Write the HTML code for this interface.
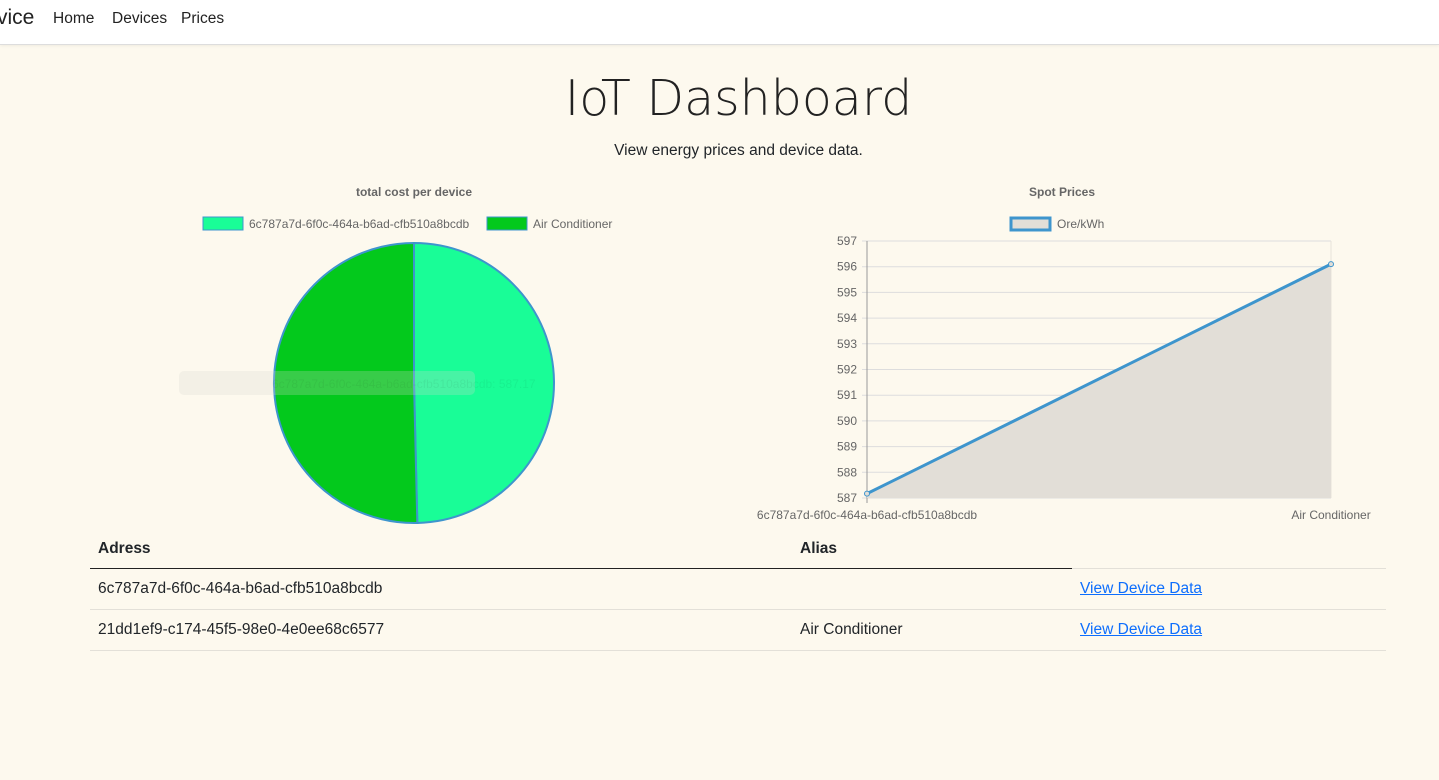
<!DOCTYPE html>
<html><head><meta charset="utf-8">
<style>
body{margin:0;width:1439px;height:780px;overflow:hidden;background:#fdf9ee;font-family:"Liberation Sans",sans-serif;color:#212529;}
.nav{position:absolute;left:0;top:0;width:1439px;height:44px;background:#fff;border-bottom:1px solid #ddd;box-shadow:0 1px 3px rgba(0,0,0,.06);}
.nav span{position:absolute;top:10px;font-size:15.5px;color:#222;}
h1{position:absolute;top:70px;left:0;width:1477px;text-align:center;margin:0;font-family:"DejaVu Sans",sans-serif;font-weight:200;font-size:49px;color:#222;}
.sub{position:absolute;top:142px;left:0;width:1477px;text-align:center;font-size:15.5px;}
svg{position:absolute;left:0;top:0;}
svg text{font-family:"Liberation Sans",sans-serif;}
table{position:absolute;left:90px;top:530px;border-collapse:collapse;font-size:15.5px;}
td,th{padding:0 8px;text-align:left;height:40px;}
th{font-weight:bold;height:38px;border-bottom:1px solid #222;}
tr.r td{border-top:1px solid #e3e0d8;}
a{color:#0d6efd;}
</style></head><body>
<div class="nav">
<span style="left:-3px;font-size:21px;top:6px">vice</span>
<span style="left:53px">Home</span>
<span style="left:112px">Devices</span>
<span style="left:181px">Prices</span>
</div>
<h1>IoT Dashboard</h1>
<div class="sub">View energy prices and device data.</div>
<svg id="c" width="1439" height="780"></svg>
<table>
<tr><th style="width:686px">Adress</th><th style="width:264px">Alias</th></tr>
<tr class="r"><td>6c787a7d-6f0c-464a-b6ad-cfb510a8bcdb</td><td></td><td style="width:298px;padding-left:8px"><a href="#">View Device Data</a></td></tr>
<tr class="r" style="border-bottom:1px solid #e3e0d8"><td>21dd1ef9-c174-45f5-98e0-4e0ee68c6577</td><td>Air Conditioner</td><td><a href="#">View Device Data</a></td></tr>
</table>
<script>
const pieLabels=["6c787a7d-6f0c-464a-b6ad-cfb510a8bcdb","Air Conditioner"];
const pieValues=[587.17,596.1];
const pieColors=["#19fd97","#03c91c"];
const lineLabels=["6c787a7d-6f0c-464a-b6ad-cfb510a8bcdb","Air Conditioner"];
const lineValues=[587.17,596.1];
const yTicks=[587,588,589,590,591,592,593,594,595,596,597];
const S="http://www.w3.org/2000/svg",svg=document.getElementById('c');
function el(t,a,p){const e=document.createElementNS(S,t);for(const k in a)e.setAttribute(k,a[k]);(p||svg).appendChild(e);return e;}
function tx(x,y,s,o){const e=el('text',Object.assign({x:x,y:y,'font-size':12,fill:'#666'},o||{}));e.textContent=s;return e;}
let t=tx(414,196,'total cost per device',{'text-anchor':'middle','font-weight':'bold'});


const lg=[[203,pieLabels[0]],[487,pieLabels[1]]];
lg.forEach((l,i)=>{let r=el('rect',{x:l[0],y:217,width:40,height:13,fill:pieColors[i],stroke:'#3e95cd'});


tx(l[0]+46,228,l[1]);});
const cx=414,cy=383,R=140;const tot=pieValues.reduce((a,b)=>a+b,0);let a0=-Math.PI/2;
pieValues.forEach((v,i)=>{const a1=a0+v/tot*2*Math.PI;
const p=el('path',{d:`M${cx},${cy}L${cx+R*Math.cos(a0)},${cy+R*Math.sin(a0)}A${R},${R} 0 ${a1-a0>Math.PI?1:0} 1 ${cx+R*Math.cos(a1)},${cy+R*Math.sin(a1)}Z`,fill:pieColors[i],stroke:'#3e95cd','stroke-width':2});


a0=a1;});
const tip=el('rect',{x:179,y:371,width:296,height:24,rx:5,fill:'#d8d8d0','fill-opacity':0.25});


tx(272,388,'6c787a7d-6f0c-464a-b6ad-cfb510a8bcdb: 587.17',{fill:'#000','fill-opacity':0.05});
t=tx(1062,196,'Spot Prices',{'text-anchor':'middle','font-weight':'bold'});


let r=el('rect',{x:1011,y:218,width:39,height:12,fill:'#e2ded7',stroke:'#3e95cd','stroke-width':3});


tx(1057,228,'Ore/kWh');
const x0=867,x1=1331,yb=498,yt=241;
const X=i=>x0+(x1-x0)*i/(lineValues.length-1);
const Y=v=>yb-(v-yTicks[0])/(yTicks[yTicks.length-1]-yTicks[0])*(yb-yt);
yTicks.forEach(v=>{el('line',{x1:x0-5,x2:x1,y1:Y(v),y2:Y(v),stroke:'#ddd'});tx(x0-10,Y(v)+4,v,{'text-anchor':'end'});});
el('line',{x1:x1,x2:x1,y1:yt,y2:yb,stroke:'#e6e2da'});
el('line',{x1:x0,x2:x0,y1:yt,y2:yb+5,stroke:'#999'});
let pts=lineValues.map((v,i)=>X(i)+','+Y(v)).join(' ');
const area=el('polygon',{points:pts+` ${X(lineValues.length-1)},${yb} ${x0},${yb}`,fill:'#e2ded7'});


const ln=el('polyline',{points:pts,fill:'none',stroke:'#3e95cd','stroke-width':3});


lineValues.forEach((v,i)=>{const c=el('circle',{cx:X(i),cy:Y(v),r:2.5,fill:'#e2ded7',stroke:'#3e95cd'});

});
tx(X(0),519,lineLabels[0],{'text-anchor':'middle'});
tx(X(1),519,lineLabels[1],{'text-anchor':'middle'});
</script>
</body></html>
